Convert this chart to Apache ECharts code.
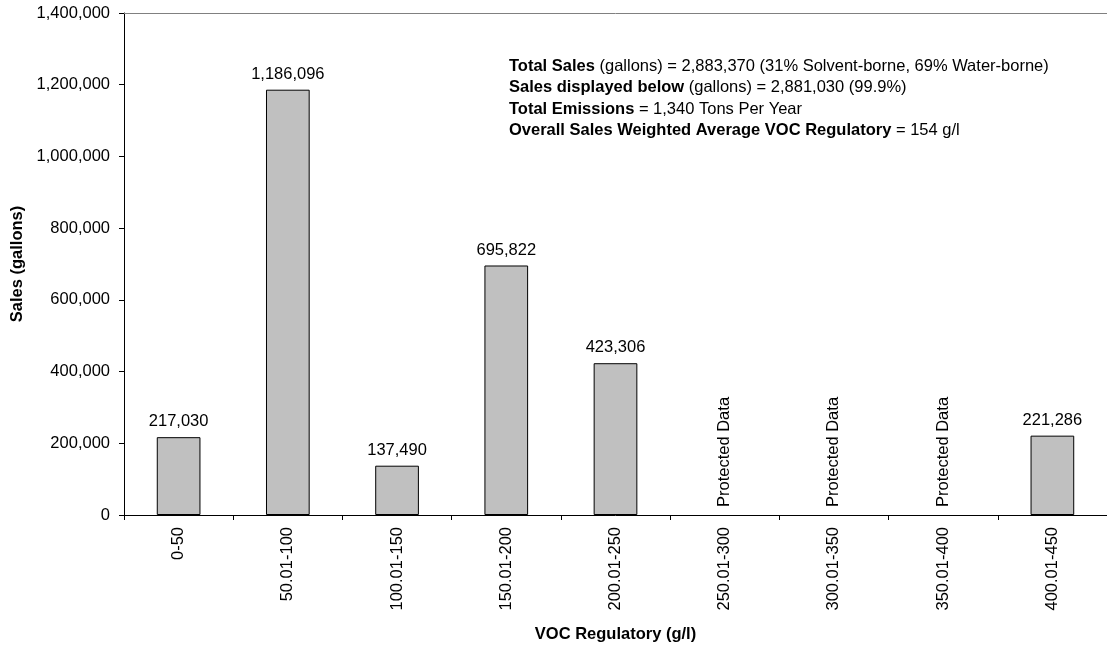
<!DOCTYPE html>
<html>
<head>
<meta charset="utf-8">
<script src="https://cdn.jsdelivr.net/npm/echarts@6/dist/echarts.min.js"></script>
<style>
  html, body { margin: 0; padding: 0; background: #fff; }
  #main { width: 1107px; height: 648px; }
</style>
</head>
<body>
<div id="main"></div>
<script>
var categories = ['0-50', '50.01-100', '100.01-150', '150.01-200', '200.01-250',
                  '250.01-300', '300.01-350', '350.01-400', '400.01-450'];
// null = protected data
var sales = [217030, 1186096, 137490, 695822, 423306, null, null, null, 221286];
var yTicks = { min: 0, max: 1400000, interval: 200000 };
var infoLines = [
    ['Total Sales', ' (gallons) = 2,883,370 (31% Solvent-borne, 69% Water-borne)'],
    ['Sales displayed below', ' (gallons) = 2,881,030 (99.9%)'],
    ['Total Emissions', ' = 1,340 Tons Per Year'],
    ['Overall Sales Weighted Average VOC Regulatory', ' = 154 g/l']
];

var fontFam = '"Liberation Sans", Arial, sans-serif';
var fs = 16.5;

function fmt(v) {
    return String(v).replace(/\B(?=(\d{3})+(?!\d))/g, ',');
}

var barData = sales.map(function (v) {
    if (v === null) {
        return {
            value: 0,
            itemStyle: { borderWidth: 0 },
            label: {
                show: true, formatter: 'Protected Data', rotate: 90,
                position: 'top', distance: 8, align: 'left', verticalAlign: 'middle'
            }
        };
    }
    return { value: v };
});

var infoText = infoLines.map(function (l) {
    return '{b|' + l[0] + '}{n|' + l[1] + '}';
}).join('\n');

var myChart = echarts.init(document.getElementById('main'));
var option = {
    animation: false,
    textStyle: { fontFamily: fontFam },
    grid: { left: 124, top: 13, right: -6, bottom: 132 },
    xAxis: [{
        type: 'category',
        data: categories,
        name: 'VOC Regulatory (g/l)',
        nameLocation: 'middle',
        nameGap: 111,
        nameTextStyle: { fontWeight: 'bold', fontSize: fs, color: '#000', fontFamily: fontFam },
        axisLine: { lineStyle: { color: '#000', width: 1 } },
        axisTick: { show: true, length: 5, alignWithLabel: false, lineStyle: { color: '#000' } },
        axisLabel: { rotate: 90, color: '#000', fontSize: fs, margin: 12, fontFamily: fontFam }
    }, {
        type: 'category',
        position: 'top',
        data: categories,
        axisLine: { lineStyle: { color: '#808080', width: 1 } },
        axisTick: { show: false },
        axisLabel: { show: false }
    }],
    yAxis: {
        type: 'value',
        min: yTicks.min, max: yTicks.max, interval: yTicks.interval,
        name: 'Sales (gallons)',
        nameLocation: 'middle',
        nameGap: 98,
        nameTextStyle: { fontWeight: 'bold', fontSize: fs, color: '#000', fontFamily: fontFam },
        axisLine: { show: true, lineStyle: { color: '#000', width: 1 } },
        axisTick: { show: true, length: 5, lineStyle: { color: '#000' } },
        splitLine: { show: false },
        axisLabel: { color: '#000', fontSize: fs, margin: 14, fontFamily: fontFam, formatter: fmt }
    },
    series: [{
        type: 'bar',
        data: barData,
        barWidth: '40%',
        itemStyle: { color: '#c0c0c0', borderColor: '#000', borderWidth: 1 },
        label: {
            show: true, position: 'top', distance: 7, color: '#000',
            fontSize: fs, fontFamily: fontFam,
            formatter: function (p) { return fmt(p.value); }
        }
    }],
    graphic: [{
        type: 'text',
        left: 509,
        top: 56,
        style: {
            text: infoText,
            fill: '#000',
            lineHeight: 21.3,
            rich: {
                b: { fontWeight: 'bold', fontSize: fs, fontFamily: fontFam, lineHeight: 21.3 },
                n: { fontSize: fs, fontFamily: fontFam, lineHeight: 21.3 }
            }
        }
    }]
};
myChart.setOption(option);
</script>
</body>
</html>
